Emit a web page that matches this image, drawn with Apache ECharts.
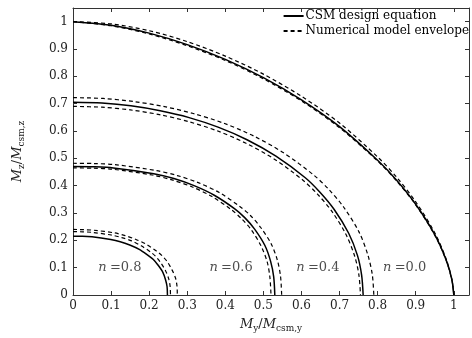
<!DOCTYPE html>
<html>
<head>
<meta charset="utf-8">
<script src="https://cdn.jsdelivr.net/npm/echarts@6/dist/echarts.min.js"></script>
<style>
html, body { margin: 0; padding: 0; background: #fff; }
#chart { width: 472px; height: 338px; }
</style>
</head>
<body>
<div id="chart"></div>
<script>
// curves, [My/Mcsm,y , Mz/Mcsm,z]
var csmN00 = [[0,1],[0.1,0.987],[0.2,0.958],[0.3,0.916],[0.4,0.862],[0.5,0.795],[0.6,0.714],[0.7,0.616],[0.8,0.493],[0.85,0.42],[0.9,0.332],[0.95,0.221],[0.98,0.128],[0.995,0.056],[1,0]];
var numHiN00 = [[0,1],[0.1,0.992],[0.2,0.967],[0.3,0.927],[0.4,0.874],[0.5,0.808],[0.6,0.727],[0.7,0.629],[0.8,0.505],[0.85,0.431],[0.9,0.341],[0.95,0.228],[0.98,0.132],[0.995,0.058],[1,0]];
var numLoN00 = [[0,1],[0.1,0.985],[0.2,0.955],[0.3,0.912],[0.4,0.858],[0.5,0.791],[0.6,0.71],[0.7,0.612],[0.8,0.49],[0.85,0.417],[0.9,0.33],[0.95,0.219],[0.98,0.127],[0.995,0.055],[1,0]];

var csmN04 = [[0,0.705],[0.076,0.702],[0.152,0.692],[0.229,0.674],[0.305,0.649],[0.381,0.614],[0.457,0.568],[0.533,0.508],[0.61,0.429],[0.648,0.377],[0.686,0.313],[0.724,0.226],[0.747,0.145],[0.758,0.073],[0.762,0]];
var numHiN04 = [[0,0.722],[0.079,0.719],[0.158,0.708],[0.237,0.69],[0.316,0.664],[0.395,0.629],[0.474,0.582],[0.553,0.52],[0.632,0.439],[0.672,0.386],[0.711,0.321],[0.751,0.231],[0.774,0.148],[0.786,0.075],[0.79,0]];
var numLoN04 = [[0,0.69],[0.076,0.687],[0.151,0.677],[0.227,0.66],[0.302,0.635],[0.378,0.601],[0.453,0.556],[0.529,0.497],[0.604,0.42],[0.642,0.369],[0.68,0.306],[0.717,0.221],[0.74,0.141],[0.751,0.072],[0.755,0]];

var csmN06 = [[0,0.47],[0.053,0.469],[0.106,0.465],[0.212,0.444],[0.265,0.426],[0.318,0.4],[0.371,0.365],[0.424,0.316],[0.451,0.283],[0.477,0.241],[0.504,0.181],[0.519,0.123],[0.527,0.067],[0.53,0]];
var numHiN06 = [[0,0.482],[0.055,0.481],[0.11,0.477],[0.219,0.455],[0.274,0.437],[0.329,0.411],[0.384,0.375],[0.438,0.324],[0.466,0.291],[0.493,0.247],[0.521,0.186],[0.537,0.126],[0.545,0.069],[0.548,0]];
var numLoN06 = [[0,0.465],[0.052,0.464],[0.104,0.46],[0.208,0.439],[0.26,0.421],[0.312,0.396],[0.364,0.361],[0.416,0.312],[0.442,0.28],[0.468,0.239],[0.494,0.179],[0.51,0.121],[0.517,0.066],[0.52,0]];

var csmN08 = [[0,0.215],[0.025,0.215],[0.05,0.213],[0.099,0.203],[0.124,0.195],[0.149,0.183],[0.174,0.167],[0.198,0.144],[0.211,0.13],[0.223,0.11],[0.236,0.083],[0.243,0.056],[0.247,0.031],[0.248,0]];
var numHiN08 = [[0,0.24],[0.027,0.239],[0.055,0.237],[0.11,0.227],[0.137,0.217],[0.164,0.204],[0.192,0.186],[0.219,0.161],[0.233,0.145],[0.247,0.123],[0.26,0.092],[0.269,0.063],[0.273,0.034],[0.274,0]];
var numLoN08 = [[0,0.232],[0.026,0.231],[0.051,0.229],[0.102,0.219],[0.128,0.21],[0.154,0.198],[0.179,0.18],[0.205,0.156],[0.218,0.14],[0.23,0.119],[0.243,0.089],[0.251,0.061],[0.255,0.033],[0.256,0]];

// n = ... labels: [x, y, text]
var nLabels = [[0.123,0.1,'0.8'],[0.415,0.1,'0.6'],[0.643,0.1,'0.4'],[0.871,0.1,'0.0']];

var legendNames = ['CSM design equation', 'Numerical model envelope'];

var serif = 'DejaVu Serif';
var myChart = echarts.init(document.getElementById('chart'));

function tickFmt(v) {
    if (v > 1.001) return '';
    return (+v.toFixed(1)).toString();
}

function curve(data, dashed) {
    return {
        name: dashed ? legendNames[1] : legendNames[0],
        type: 'line',
        data: data,
        symbol: 'none',
        smooth: 0.3,
        silent: true,
        z: dashed ? 2 : 3,
        lineStyle: {
            color: '#000',
            width: dashed ? 1.2 : 1.5,
            type: dashed ? [4, 3] : 'solid'
        },
        itemStyle: { color: '#000' }
    };
}

var nameRich = {
    m: { fontFamily: serif, fontStyle: 'italic', fontSize: 13, color: '#222' },
    n: { fontFamily: serif, fontSize: 13, color: '#222' },
    s: { fontFamily: serif, fontSize: 9, color: '#222', padding: [7, 0, 0, 0] }
};

var axisBase = {
    type: 'value',
    min: 0,
    interval: 0.1,
    axisLine: { show: true, onZero: false, lineStyle: { color: '#333', width: 1 } },
    axisTick: { show: true, inside: true, length: 4, lineStyle: { color: '#333' } },
    splitLine: { show: false }
};

var option = {
    animation: false,
    backgroundColor: '#fff',
    grid: { left: 73, right: 2, top: 8, bottom: 43 },
    legend: {
        data: legendNames,
        orient: 'vertical',
        right: 3,
        top: 10,
        itemWidth: 20,
        itemHeight: 8,
        itemGap: 3,
        padding: 0,
        itemStyle: { opacity: 0 },
        textStyle: { fontFamily: serif, fontSize: 12, color: '#000', padding: [0, 0, 0, -3] }
    },
    xAxis: [
        Object.assign({}, axisBase, {
            max: 1.04,
            position: 'bottom',
            axisLabel: { formatter: tickFmt, fontFamily: serif, fontSize: 12, color: '#222', margin: 5 },
            name: '{m|M}{s|y}{n|/}{m|M}{s|csm,y}',
            nameLocation: 'middle',
            nameGap: 22,
            nameTextStyle: { rich: nameRich }
        }),
        Object.assign({}, axisBase, {
            max: 1.04,
            position: 'top',
            axisLabel: { show: false }
        })
    ],
    yAxis: [
        Object.assign({}, axisBase, {
            max: 1.05,
            position: 'left',
            axisLabel: { formatter: tickFmt, fontFamily: serif, fontSize: 12, color: '#222', margin: 5 },
            name: '{m|M}{s|z}{n|/}{m|M}{s|csm,z}',
            nameLocation: 'middle',
            nameRotate: 90,
            nameGap: 47,
            nameTextStyle: { rich: nameRich }
        }),
        Object.assign({}, axisBase, {
            max: 1.05,
            position: 'right',
            axisLabel: { show: false }
        })
    ],
    series: [
        curve(csmN00, false), curve(numHiN00, true), curve(numLoN00, true),
        curve(csmN04, false), curve(numHiN04, true), curve(numLoN04, true),
        curve(csmN06, false), curve(numHiN06, true), curve(numLoN06, true),
        curve(csmN08, false), curve(numHiN08, true), curve(numLoN08, true),
        {
            type: 'scatter',
            data: nLabels,
            symbolSize: 0,
            silent: true,
            label: {
                show: true,
                position: 'inside',
                formatter: function (p) {
                    return '{i|n} {t|=' + p.value[2] + '}';
                },
                rich: {
                    i: { fontFamily: serif, fontStyle: 'italic', fontSize: 13, color: '#222' },
                    t: { fontFamily: serif, fontSize: 13, color: '#222' }
                }
            }
        }
    ]
};

myChart.setOption(option);
</script>
</body>
</html>
